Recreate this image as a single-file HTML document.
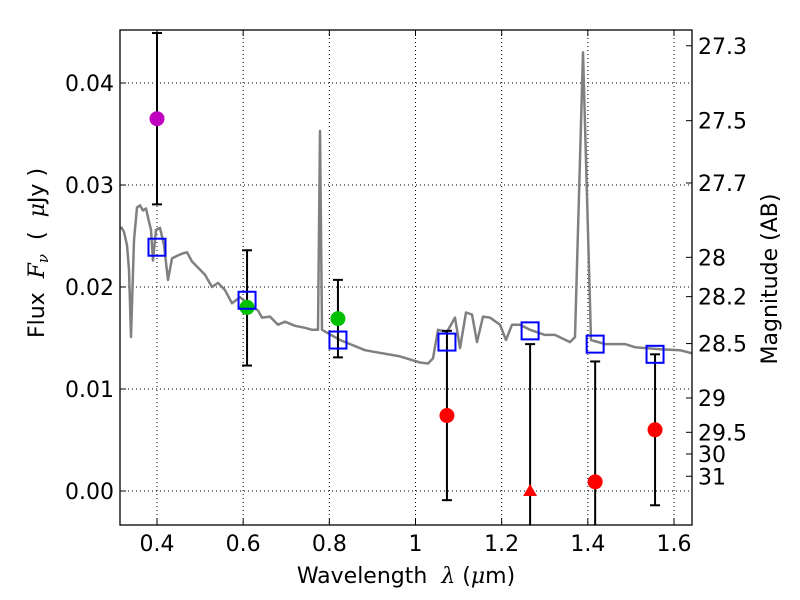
<!DOCTYPE html>
<html><head><meta charset="utf-8"><style>
body{margin:0;background:#fff;}
svg{display:block;font-family:"DejaVu Sans","Liberation Sans",sans-serif;}
</style></head><body>
<svg id="c" width="800" height="600"></svg>
<script>
const modelWave=[0.3164,0.3234,0.3304,0.335,0.3397,0.3466,0.3536,0.3605,0.3675,0.3745,0.3814,0.3861,0.3907,0.3977,0.407,0.4162,0.4255,0.4348,0.4487,0.4604,0.4696,0.4812,0.4952,0.5114,0.5277,0.5416,0.5578,0.5741,0.5927,0.6159,0.6344,0.6437,0.6623,0.6809,0.6971,0.7203,0.7435,0.7598,0.7737,0.7783,0.783,0.8248,0.8828,0.964,1.0105,1.029,1.0406,1.0522,1.0731,1.0917,1.1033,1.1172,1.1311,1.1428,1.1567,1.173,1.1962,1.2101,1.224,1.2426,1.2658,1.3006,1.3238,1.3586,1.3702,1.3888,1.4074,1.4399,1.4863,1.5095,1.5675,1.6139,1.6418];
const modelFlux=[0.0259,0.0254,0.0241,0.0217,0.0151,0.0246,0.0278,0.028,0.0275,0.0277,0.0264,0.0256,0.0226,0.0256,0.0258,0.0241,0.0207,0.0228,0.0231,0.0233,0.0234,0.0225,0.0219,0.0212,0.02,0.0204,0.0197,0.0184,0.019,0.0182,0.0177,0.017,0.0171,0.0163,0.0166,0.0162,0.016,0.0158,0.0158,0.0353,0.0158,0.0148,0.0138,0.0132,0.0126,0.0125,0.013,0.0158,0.0156,0.017,0.014,0.0175,0.0173,0.0146,0.0171,0.017,0.0163,0.0148,0.0163,0.0163,0.0158,0.0153,0.0153,0.0146,0.0151,0.043,0.0148,0.0144,0.0144,0.0141,0.0139,0.0138,0.0135];
const photWave=[0.4,0.609,0.82,1.073,1.266,1.417,1.556];
const photFlux=[0.0365,0.0180,0.0169,0.0074,0.0,0.0009,0.0060];
const errHi=[0.0449,0.0236,0.0207,0.0157,0.0144,0.0127,0.0134];
const errLo=[0.0281,0.0123,0.0131,-0.0009,-0.01,-0.01,-0.0014];
const photColor=['#bf00bf','#00c000','#00c000','#ff0000','#ff0000','#ff0000','#ff0000'];
const photMarker=['o','o','o','o','^','o','o'];
const synthFlux=[0.0239,0.0187,0.0148,0.0146,0.0157,0.0144,0.0134];
const xTicks=[0.4,0.6,0.8,1.0,1.2,1.4,1.6];
const xTickLabels=['0.4','0.6','0.8','1','1.2','1.4','1.6'];
const yTicks=[0,0.01,0.02,0.03,0.04];
const yTickLabels=['0.00','0.01','0.02','0.03','0.04'];
const magTicks=[27.3,27.5,27.7,28,28.2,28.5,29,29.5,30,31];
const magTickLabels=['27.3','27.5','27.7','28','28.2','28.5','29','29.5','30','31'];

const L=120,R=692,T=30,B=525;
const X=v=>157+(v-0.4)*430.83;
const Y=v=>491-v*10200;
const NS='http://www.w3.org/2000/svg';
const svg=document.getElementById('c');
function mk(tag,attrs,parent){const e=document.createElementNS(NS,tag);for(const k in attrs)e.setAttribute(k,attrs[k]);(parent||svg).appendChild(e);return e;}
const defs=mk('defs',{});const cp=mk('clipPath',{id:'clip'},defs);mk('rect',{x:L,y:T,width:R-L,height:B-T},cp);

const grid=mk('g',{});


xTicks.forEach(t=>{mk('line',{x1:X(t),x2:X(t),y1:T,y2:B,stroke:'#000','stroke-width':1,'stroke-dasharray':'1,3'},grid);});
yTicks.forEach(t=>{mk('line',{x1:L,x2:R,y1:Y(t),y2:Y(t),stroke:'#000','stroke-width':1,'stroke-dasharray':'1,3'},grid);});

const plot=mk('g',{'clip-path':'url(#clip)'});
let d='';modelWave.forEach((w,i)=>{d+=(i?'L':'M')+X(w).toFixed(1)+','+Y(modelFlux[i]).toFixed(1);});
const line=mk('path',{d:d,fill:'none',stroke:'#808080','stroke-width':2.5,'stroke-linejoin':'round'},plot);



photWave.forEach((w,i)=>{
  const g=mk('g',{},plot);
  
  
  const x=X(w);
  mk('line',{x1:x,x2:x,y1:Y(errHi[i]),y2:Y(errLo[i]),stroke:'#000','stroke-width':2},g);
  mk('line',{x1:x-5,x2:x+5,y1:Y(errHi[i]),y2:Y(errHi[i]),stroke:'#000','stroke-width':2},g);
  mk('line',{x1:x-5,x2:x+5,y1:Y(errLo[i]),y2:Y(errLo[i]),stroke:'#000','stroke-width':2},g);
  const y=Y(photFlux[i]);
  if(photMarker[i]==='^') mk('polygon',{points:`${x},${y-7} ${x-7},${y+5} ${x+7},${y+5}`,fill:photColor[i]},g);
  else mk('circle',{cx:x,cy:y,r:7.5,fill:photColor[i]},g);
});
photWave.forEach((w,i)=>{
  const s=mk('rect',{x:X(w)-8.5,y:Y(synthFlux[i])-8.5,width:17,height:17,fill:'none',stroke:'#0000ff','stroke-width':2},plot);
  
  
});

const ax=mk('g',{});


mk('rect',{x:L,y:T,width:R-L,height:B-T,fill:'none',stroke:'#000','stroke-width':1.3},ax);
xTicks.forEach((t,i)=>{const x=X(t);
  mk('line',{x1:x,x2:x,y1:B,y2:B-6,stroke:'#000'},ax);mk('line',{x1:x,x2:x,y1:T,y2:T+6,stroke:'#000'},ax);
  const tx=mk('text',{x:x,y:B+26,'font-size':22,'text-anchor':'middle'},ax);tx.textContent=xTickLabels[i];
  
  
});
yTicks.forEach((t,i)=>{const y=Y(t);
  mk('line',{x1:L,x2:L+6,y1:y,y2:y,stroke:'#000'},ax);
  const tx=mk('text',{x:L-6,y:y+8,'font-size':22,'text-anchor':'end'},ax);tx.textContent=yTickLabels[i];
  
  
});
magTicks.forEach((m,i)=>{const y=Y(Math.pow(10,(23.9-m)/2.5));
  mk('line',{x1:R,x2:R-6,y1:y,y2:y,stroke:'#000'},ax);
  const tx=mk('text',{x:R+6,y:y+8,'font-size':22},ax);tx.textContent=magTickLabels[i];
  
  
});
const xl=mk('text',{x:406,y:583,'font-size':22,'text-anchor':'middle'},ax);
xl.innerHTML='Wavelength\u00a0\u00a0<tspan font-family="DejaVu Serif" font-style="italic">λ</tspan>\u00a0(<tspan font-family="DejaVu Serif" font-style="italic">μ</tspan>m)';


const yl=mk('text',{x:44,y:253,'font-size':22,'text-anchor':'middle',transform:'rotate(-90 44 253)'},ax);
yl.innerHTML='Flux\u00a0\u00a0<tspan font-family="DejaVu Serif" font-style="italic">F<tspan font-size="15" dy="4">ν</tspan></tspan><tspan dy="-4">\u00a0\u00a0(\u00a0\u00a0</tspan><tspan font-family="DejaVu Serif" font-style="italic">μ</tspan>Jy\u00a0)';


const rl=mk('text',{x:777,y:279,'font-size':22,'text-anchor':'middle',transform:'rotate(-90 777 279)'},ax);
rl.textContent='Magnitude (AB)';


</script>
</body></html>
